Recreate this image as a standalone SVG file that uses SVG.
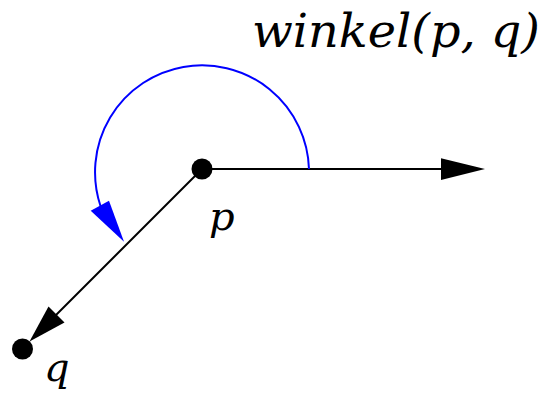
<svg xmlns="http://www.w3.org/2000/svg" width="551" height="395" viewBox="0 0 551 395">
<style>
.ln{stroke:#000;stroke-width:2;fill:none}
.arc{stroke:#0000ff;stroke-width:2;fill:none}
.lbl{font-family:"DejaVu Serif","Liberation Serif",serif;font-style:italic;fill:#000}
</style>
<rect width="551" height="395" fill="#fff"/>
<g id="connectors">
<line class="ln" x1="202" y1="169" x2="442" y2="169"/>
<polygon points="485,169 441,158.3 441,180" fill="#000"/>
<line class="ln" x1="202" y1="169" x2="50" y2="321"/>
<polygon points="29.5,341.5 64.5,322.5 48.5,306.5" fill="#000"/>
<path class="arc" d="M 309 169 A 107 107 0 1 0 100.5 206"/>
<polygon points="124,241.7 90.7,210.7 109,200.7" fill="#0000ff"/>
</g>
<g id="node-p">
<circle cx="202" cy="169" r="10.5" fill="#000"/>
<text class="lbl" x="209" y="230" font-size="40">p</text>
</g>
<g id="node-q">
<circle cx="22.5" cy="349" r="10.5" fill="#000"/>
<text class="lbl" x="44" y="381" font-size="40">q</text>
</g>
<g id="label-winkel">
<text class="lbl" x="252" y="47" font-size="46" textLength="288" lengthAdjust="spacingAndGlyphs">winkel(p, q)</text>
</g>
</svg>
